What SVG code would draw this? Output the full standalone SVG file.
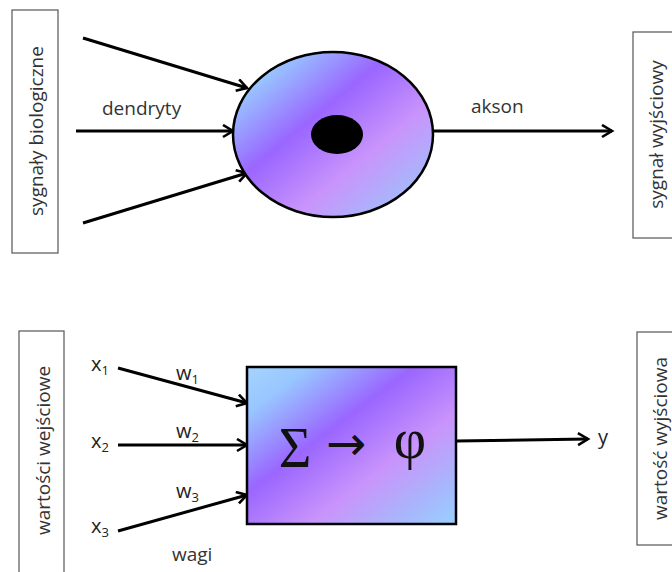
<svg xmlns="http://www.w3.org/2000/svg" width="672" height="572" viewBox="0 0 672 572">
<style>
.lbl{font-family:"Open Sans","Liberation Sans",sans-serif;font-size:19px;fill:#333}
.var{font-family:"Open Sans","Liberation Sans",sans-serif;font-size:20px;fill:#222}
.sub{font-size:13px}
.box{fill:#fff;stroke:#555;stroke-width:1.2}
.con{stroke:#000;stroke-width:3;fill:none;marker-end:url(#arr)}
.math{font-family:"Liberation Serif","DejaVu Serif",serif;fill:#111}
</style>
<defs>
<marker id="arr" markerUnits="userSpaceOnUse" markerWidth="16" markerHeight="16" refX="12" refY="7" orient="auto">
<path d="M2,1 L12,7 L2,13" fill="none" stroke="#000" stroke-width="2.6"/>
</marker>
<linearGradient id="g" x1="0" y1="0" x2="1" y2="1">
<stop offset="0" stop-color="#a6d4ff"/>
<stop offset="0.15" stop-color="#98c6ff"/>
<stop offset="0.4" stop-color="#9a66ff"/>
<stop offset="0.65" stop-color="#c994fb"/>
<stop offset="0.85" stop-color="#a8b6fc"/>
<stop offset="1" stop-color="#99d0ff"/>
</linearGradient>
</defs>
<g id="connectors">
<line class="con" x1="83" y1="38" x2="247" y2="88"/>
<line class="con" x1="76" y1="131" x2="233" y2="131"/>
<line class="con" x1="83" y1="223" x2="247" y2="173"/>
<line class="con" x1="433" y1="131" x2="612" y2="131"/>
<line class="con" x1="118" y1="368" x2="247" y2="403"/>
<line class="con" x1="118" y1="445" x2="247" y2="445"/>
<line class="con" x1="118" y1="531" x2="247" y2="495"/>
<line class="con" x1="456" y1="441" x2="588" y2="439"/>
</g>
<g id="box-sygnaly-biologiczne">
<rect class="box" x="12" y="10" width="46" height="243"/>
<text class="lbl" transform="translate(43,131) rotate(-90)" text-anchor="middle">sygnały biologiczne</text>
</g>
<g id="box-sygnal-wyjsciowy">
<rect class="box" x="633" y="32" width="46" height="206"/>
<text class="lbl" transform="translate(663,134.5) rotate(-90)" text-anchor="middle">sygnał wyjściowy</text>
</g>
<g id="box-wartosci-wejsciowe">
<rect class="box" x="19" y="331" width="45" height="250"/>
<text class="lbl" transform="translate(50,450.5) rotate(-90)" text-anchor="middle">wartości  wejściowe</text>
</g>
<g id="box-wartosc-wyjsciowa">
<rect class="box" x="637" y="332" width="46" height="213"/>
<text class="lbl" transform="translate(667,438.5) rotate(-90)" text-anchor="middle">wartość wyjściowa</text>
</g>
<g id="neuron">
<ellipse cx="333" cy="134.5" rx="100" ry="82.5" fill="url(#g)" stroke="#000" stroke-width="2.5"/>
<ellipse cx="337" cy="134.5" rx="26" ry="19.5" fill="#000"/>
</g>
<g id="perceptron">
<rect x="247" y="367" width="209" height="157" fill="url(#g)" stroke="#000" stroke-width="2.5"/>
<text class="math" x="295" y="467" font-size="56" text-anchor="middle">Σ</text>
<text x="346" y="460" font-size="48" text-anchor="middle" font-family="DejaVu Sans,sans-serif" fill="#111">→</text>
<text class="math" x="410" y="458" font-size="56" text-anchor="middle">φ</text>
</g>
<g id="labels">
<text class="lbl" x="102" y="115">dendryty</text>
<text class="lbl" x="471" y="113">akson</text>
<text class="var" x="91" y="371">x<tspan class="sub" dy="4">1</tspan></text>
<text class="var" x="91" y="448">x<tspan class="sub" dy="4">2</tspan></text>
<text class="var" x="91" y="533">x<tspan class="sub" dy="4">3</tspan></text>
<text class="var" x="176" y="380">w<tspan class="sub" dy="4">1</tspan></text>
<text class="var" x="176" y="438">w<tspan class="sub" dy="4">2</tspan></text>
<text class="var" x="176" y="498">w<tspan class="sub" dy="4">3</tspan></text>
<text class="lbl" x="172" y="561">wagi</text>
<text class="var" x="598" y="444" font-size="17">y</text>
</g>
</svg>
